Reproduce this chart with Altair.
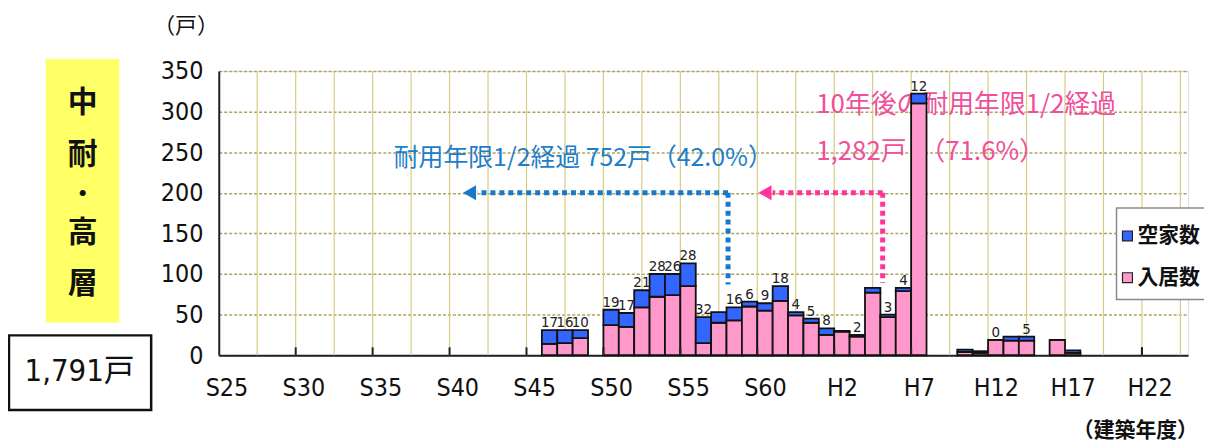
import altair as alt
import pandas as pd

# ---- data ----
years = [1971, 1972, 1973, 1975, 1976, 1977, 1978, 1979, 1980, 1981, 1982, 1983,
         1984, 1985, 1986, 1987, 1988, 1989, 1990, 1991, 1992, 1993, 1994, 1995,
         1998, 1999, 2000, 2001, 2002, 2004, 2005]
occupied = [14, 15, 21, 37, 35, 59, 72, 74, 85, 15, 40, 43,
            60, 55, 67, 49, 40, 25, 29, 23, 77, 47, 79, 310,
            4, 3, 19, 18, 18, 19, 3]
vacant = [17, 16, 10, 19, 17, 21, 28, 26, 28, 32, 13, 16,
          6, 9, 18, 4, 5, 8, 1, 2, 6, 3, 4, 12,
          3, 2, 0, 5, 5, 0, 3]
vac_labels = ["17", "16", "10", "19", "17", "21", "28", "26", "28", "32", "", "16",
              "6", "9", "18", "4", "5", "8", "", "2", "", "3", "4", "12",
              "", "", "0", "", "5", "", ""]

tick_years = [1950, 1955, 1960, 1965, 1970, 1975, 1980, 1985, 1990, 1995, 2000, 2005, 2010]
tick_labels = ["S25", "S30", "S35", "S40", "S45", "S50", "S55", "S60", "H2", "H7", "H12", "H17", "H22"]
y_ticks = [0, 50, 100, 150, 200, 250, 300, 350]

series = ["空家数", "入居数"]
colors = ["#3366FF", "#FF99CC"]

# annotation arrows (data coordinates)
arrow_blue = {"x_from": 1982.6, "x_to": 1966.3, "y": 200, "y_bottom": 87, "tip": 1965.8}
arrow_pink = {"x_from": 1992.65, "x_to": 1985.5, "y": 200, "y_bottom": 89, "tip": 1985.0}

NUM_FONT = "Liberation Sans Narrow, DejaVu Sans Condensed, Noto Sans CJK JP, sans-serif"
JP_FONT = "Noto Sans CJK JP, sans-serif"
BLUE_TXT = "#1E7EC8"
PINK_TXT = "#F0509A"

W, H = 975, 286

# ---- build tables ----
rows = []
for yr, o, v in zip(years, occupied, vacant):
    rows.append({"x0": yr - 0.5, "x1": yr + 0.5, "y0": 0, "y1": o, "series": "入居数"})
    rows.append({"x0": yr - 0.5, "x1": yr + 0.5, "y0": o, "y1": o + v, "series": "空家数"})
bars_df = pd.DataFrame(rows)

lab_df = pd.DataFrame({"year": years,
                       "total": [o + v for o, v in zip(occupied, vacant)],
                       "label": vac_labels})
lab_df = lab_df[lab_df["label"] != ""]

label_expr = "[" + ",".join("'%s'" % t for t in tick_labels) + "][round((datum.value-1950)/5)]"

xscale = alt.Scale(domain=[1949.5, 2012.5], nice=False, zero=False)
yscale = alt.Scale(domain=[0, 350], nice=False)

X_AX = alt.Axis(values=tick_years, labelExpr=label_expr, grid=False, ticks=False,
                domainColor="#222222", domainWidth=2, labelFont=NUM_FONT,
                labelFontSize=25, labelColor="#111111", labelBaseline="top",
                labelPadding=20, title=None, labelFlush=False, labelOverlap=False)
Y_AX = alt.Axis(values=y_ticks, grid=True, gridDash=[3, 2], gridColor="#ADA460",
                gridWidth=1.5, ticks=False, domainColor="#222222", domainWidth=2,
                labelFont=NUM_FONT, labelFontSize=25, labelColor="#111111",
                labelPadding=16, title=None)


def X(field):
    return alt.X(field, scale=xscale, axis=X_AX)


def Y(field):
    return alt.Y(field, scale=yscale, axis=Y_AX)


grid_df = pd.DataFrame({"gx": [1949.5 + 2.5 * k for k in range(1, 26)]})
tick_df = pd.DataFrame({"tx": [t + 4.5 for t in tick_years[:-1]] + [2009.5]})

vgrid = alt.Chart(grid_df).mark_rule(color="#D6CC86", strokeWidth=1.2).encode(
    x=X("gx:Q"), y=alt.value(0), y2=alt.value(H))

bars = alt.Chart(bars_df).mark_bar(stroke="#111111", strokeWidth=1.8).encode(
    x=X("x0:Q"), x2="x1:Q", y=Y("y0:Q"), y2="y1:Q",
    color=alt.Color("series:N", scale=alt.Scale(domain=series, range=colors), legend=None))

xticks = alt.Chart(tick_df).mark_rule(color="#222222", strokeWidth=2).encode(
    x=X("tx:Q"), y=alt.value(H), y2=alt.value(H - 8))

labels = alt.Chart(lab_df).mark_text(font=NUM_FONT, fontSize=15, color="#222222",
                                     baseline="bottom", dy=0).encode(
    x=X("year:Q"), y=Y("total:Q"), text="label:N")


def arrow(a, color):
    h = pd.DataFrame({"x": [a["x_from"]], "x2": [a["x_to"]], "y": [a["y"]]})
    v = pd.DataFrame({"x": [a["x_from"]], "y": [a["y"]], "y2": [a["y_bottom"]]})
    tip = pd.DataFrame({"x": [a["tip"]], "y": [a["y"]]})
    hl = alt.Chart(h).mark_rule(color=color, strokeWidth=5, strokeDash=[5, 4]).encode(
        x=X("x:Q"), x2="x2:Q", y=Y("y:Q"))
    vl = alt.Chart(v).mark_rule(color=color, strokeWidth=5, strokeDash=[5, 4]).encode(
        x=X("x:Q"), y=Y("y:Q"), y2="y2:Q")
    hd = alt.Chart(tip).mark_point(shape="triangle-left", filled=True, size=230,
                                   color=color, opacity=1).encode(
        x=X("x:Q"), y=Y("y:Q"))
    return [hl, vl, hd]


def txt(s, x, y, size, color="#111111", font=JP_FONT, align="left", baseline="middle",
        weight="normal"):
    return alt.Chart(pd.DataFrame({"t": [s]})).mark_text(
        font=font, fontSize=size, color=color, align=align, baseline=baseline,
        fontWeight=weight).encode(x=alt.value(x), y=alt.value(y), text="t:N")


def box(x1, x2, y1, y2, fill, stroke=None, sw=0):
    kw = {"fill": fill}
    if stroke:
        kw.update(stroke=stroke, strokeWidth=sw)
    return alt.Chart(pd.DataFrame({"a": [0]})).mark_rect(**kw).encode(
        x=alt.value(x1), x2=alt.value(x2), y=alt.value(y1), y2=alt.value(y2))


annot = [
    txt("耐用年限1/2経過 752戸（42.0%）", 176, 88, 25, BLUE_TXT),
    txt("10年後の耐用年限1/2経過", 601, 34, 26, PINK_TXT),
    txt("1,282戸　（71.6%）", 601, 82, 26, PINK_TXT),
]

legend = [
    box(903, 992, 138, 230, "#FFFFFF", "#8A8A8A", 1.5),
    box(909, 919, 161, 171, "#3366FF", "#222222", 1.2),
    box(909, 919, 203, 213, "#FF99CC", "#222222", 1.2),
    txt("空家数", 924, 166, 21, "#111111", weight="bold"),
    txt("入居数", 924, 208, 21, "#111111", weight="bold"),
]

left = [
    box(-174, -100, -12, 253, "#FFFF66"),
    txt("中", -137, 32, 30, weight="bold", align="center"),
    txt("耐", -137, 85, 30, weight="bold", align="center"),
    txt("・", -137, 125, 24, weight="bold", align="center"),
    txt("高", -137, 163, 30, weight="bold", align="center"),
    txt("層", -137, 214, 30, weight="bold", align="center"),
    box(-211, -68, 266, 341, "#FFFFFF", "#111111", 2.5),
    txt("1,791戸", -140, 303, 31, font=NUM_FONT, align="center"),
    txt("（戸）", -33, -45, 22, align="center"),
    txt("（建築年度）", 922, 362, 21, align="center", weight="bold"),
]

layers = [vgrid] + annot + [bars, xticks, labels] + arrow(arrow_blue, "#1A78C8") + \
    arrow(arrow_pink, "#FF3399") + legend + left

chart = alt.layer(*layers).properties(
    width=W, height=H,
    autosize=alt.AutoSizeParams(type="none"),
    padding={"left": 212, "top": 62, "right": 16, "bottom": 92},
).configure_view(fill="#FFFF99", stroke="#222222", strokeWidth=2).configure(
    background="#FFFFFF")

chart.save("out.html", embed_options={"renderer": "svg", "actions": False})
